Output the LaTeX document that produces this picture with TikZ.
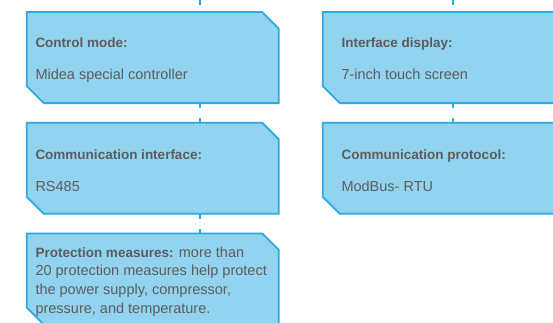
\documentclass[tikz,border=0pt]{standalone}
\usepackage{fontspec}
\setmainfont{Liberation Sans}
\definecolor{boxfill}{HTML}{92D3EF}
\definecolor{boxline}{HTML}{29ABE2}
\definecolor{txt}{HTML}{5C5C5C}
\newcommand\hd[1]{{\fontsize{13.5}{18.6}\selectfont\bfseries #1}}
\tikzset{
  infobox/.style={rectangle, minimum width=251.6pt, minimum height=90.7pt,
    inner sep=0pt, anchor=north west},
  boxoutline/.style={draw=boxline, fill=boxfill, line width=1.8pt,
    line join=miter},
  label/.style={anchor=base west, inner sep=0pt, text=txt,
    font=\fontsize{14.5}{18.6}\selectfont},
  link/.style={draw=boxline, line width=1.5pt, dash pattern=on 5pt off 10pt}
}
% outline of a box with its north-east and south-west corners cut off
\newcommand\cutbox[1]{%
  \path[boxoutline] (#1.north west)
    -- ([xshift=-16.5pt]#1.north east)
    -- ([yshift=-16.5pt]#1.north east)
    -- (#1.south east)
    -- ([xshift=17pt]#1.south west)
    -- ([yshift=17pt]#1.south west)
    -- cycle;}
\begin{document}
\begin{tikzpicture}[x=1pt,y=-1pt]
\useasboundingbox (0,0) rectangle (553,322);
\clip (0,0) rectangle (553,322);
% boxes
\node[infobox] (ctrl) at (26.7,12) {};
\node[infobox] (disp) at (322.7,12) {};
\node[infobox] (comi) at (26.7,122.7) {};
\node[infobox] (comp) at (322.7,122.7) {};
\node[infobox] (prot) at (26.7,233.4) {};
\cutbox{ctrl}
\cutbox{disp}
\cutbox{comi}
\cutbox{comp}
\cutbox{prot}
% connector columns
\coordinate (lc) at (200,0);
\coordinate (rc) at (453,0);
\path[link] (lc) -- (ctrl.north -| lc);
\path[link] (rc) -- (disp.north -| rc);
\path[link] (ctrl.south -| lc) -- (comi.north -| lc);
\path[link] (comi.south -| lc) -- (prot.north -| lc);
\path[link] (disp.south -| rc) -- (comp.north -| rc);
% texts
\node[label] (t1) at (35.3,47.2) {\hd{Control mode:}};
\node[label] (v1) at (35.3,79.2) {Midea special controller};
\node[label] (t2) at (341.3,47.2) {\hd{Interface display:}};
\node[label] (v2) at (341.3,79.2) {7-inch touch screen};
\node[label] (t3) at (35.3,159.5) {\hd{Communication interface:}};
\node[label] (v3) at (35.3,191.8) {RS485};
\node[label] (t4) at (341.3,159.5) {\hd{Communication protocol:}};
\node[label] (v4) at (341.3,191.8) {ModBus- RTU};
\node[label, align=left, anchor=north west] (t5) at (35.3,246.5)
  {\hd{Protection measures:} more than\\
   20 protection measures help protect\\
   the power supply, compressor,\\
   pressure, and temperature.};
\end{tikzpicture}
\end{document}
